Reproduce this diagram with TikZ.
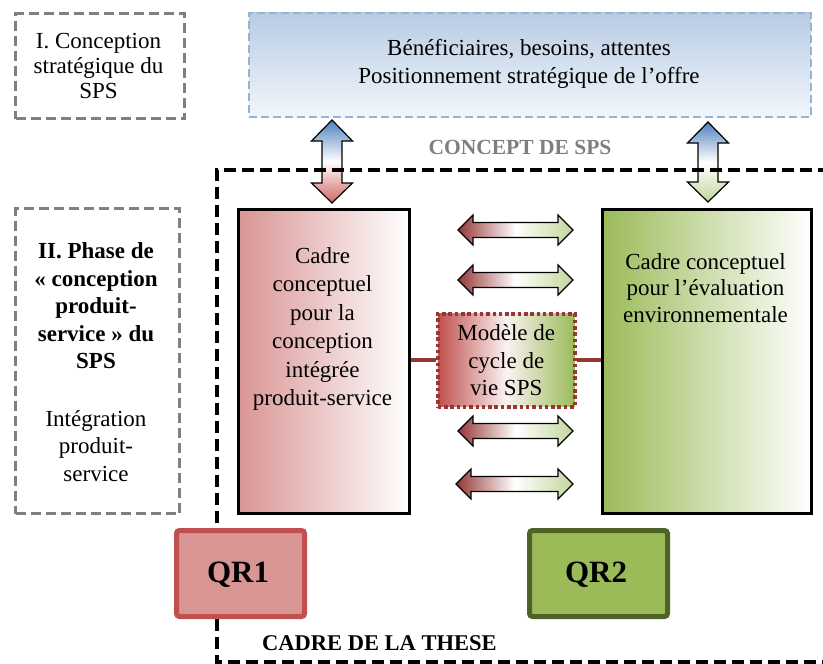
\documentclass[tikz,border=0pt]{standalone}
\usepackage{fontspec}
\setmainfont{Liberation Serif}
\definecolor{grayD}{HTML}{7F7F7F}
\definecolor{blueB}{HTML}{95B3D7}
\definecolor{blueTop}{HTML}{B8CCE4}
\definecolor{blueBot}{HTML}{F2F6FB}
\definecolor{blueA}{HTML}{4F81BD}
\definecolor{redL}{HTML}{D99594}
\definecolor{redM}{HTML}{C0504D}
\definecolor{redD}{HTML}{953735}
\definecolor{redArr}{HTML}{D06664}
\definecolor{greenL}{HTML}{9BBB59}
\definecolor{greenD}{HTML}{4F6228}
\definecolor{greenP}{HTML}{C3D69B}
\newcommand\hdarr[3]{%
\shadedraw[harrow] (#1,#3) -- ({#1+15},{#3-15}) -- ({#1+15},{#3-7.5}) -- ({#2-15},{#3-7.5}) -- ({#2-15},{#3-15}) -- (#2,#3) -- ({#2-15},{#3+15}) -- ({#2-15},{#3+7.5}) -- ({#1+15},{#3+7.5}) -- ({#1+15},{#3+15}) -- cycle;}
\newcommand\vdarr[5]{% x, ytop, ybottom, bottom colour
\shadedraw[varrow, bottom color=#4, middle color=white] (#1,#2) -- ({#1+20.5},{#2+21}) -- ({#1+10},{#2+21}) -- ({#1+10},{#3-20}) -- ({#1+20.5},{#3-20}) -- (#1,#3) -- ({#1-20.5},{#3-20}) -- ({#1-10},{#3-20}) -- ({#1-10},{#2+21}) -- ({#1-20.5},{#2+21}) -- cycle;}
\begin{document}
\begin{tikzpicture}[x=1pt,y=-1pt,
  txt/.style={font=\fontsize{23}{27.5}\selectfont, align=center, inner sep=0pt},
  graybox/.style={draw=grayD, line width=3pt, dash pattern=on 10pt off 5pt, anchor=north west, inner sep=0pt},
  bluebox/.style={draw=blueB, line width=1.8pt, dash pattern=on 8pt off 4pt, top color=blueTop, bottom color=blueBot, anchor=north west, inner sep=0pt},
  bigbox/.style={draw=black, line width=2.8pt, anchor=north west, inner sep=0pt},
  qrbox/.style={line width=5pt, rounded corners=3pt, anchor=north west, inner sep=0pt, font=\bfseries\fontsize{31}{36}\selectfont},
  harrow/.style={draw=black, line width=1.2pt, line join=miter, left color=redD, right color=greenP, middle color=white},
  varrow/.style={draw=black, line width=1.2pt, line join=miter, top color=blueA},
  frame/.style={draw=black, line width=4pt, dash pattern=on 12pt off 6pt},
  link/.style={draw=redD, line width=4pt}]
\useasboundingbox (0,0) rectangle (823,664);

% top row
\node[graybox, minimum width=169pt, minimum height=105pt] (b1) at (14,12) {};
\node[txt, font=\fontsize{23}{25}\selectfont] (b1t) at (98.5,66) {I. Conception\\stratégique du\\SPS};
\node[bluebox, minimum width=562pt, minimum height=104pt] (top) at (248,12) {};
\node[txt] (topt) at (529,64) {Bénéficiaires, besoins, attentes\\Positionnement stratégique de l’offre};

% vertical arrows
\vdarr{332}{120}{203}{redArr}{}
\vdarr{708}{122}{202}{greenP}{}

\node[font=\bfseries\fontsize{21.5}{24}\selectfont, text=grayD, inner sep=0pt] (concept) at (520,147) {CONCEPT DE SPS};

% thesis frame
\draw[frame] (830,170) -- (217,170) -- (217,662) -- (830,662);

% phase II box
\node[graybox, minimum width=164pt, minimum height=305pt] (b2) at (14,207) {};
\node[txt] (b2t) at (96,362) {\bfseries II. Phase de\\\bfseries « conception\\\bfseries produit-\\\bfseries service » du\\\bfseries SPS\\[30pt]Intégration\\produit-\\service};

% main boxes
\node[bigbox, minimum width=171pt, minimum height=304pt, left color=redL, right color=white] (lbox) at (237,208) {};
\node[txt, font=\fontsize{23}{28.4}\selectfont] (lboxt) at (322.5,329) {Cadre\\conceptuel\\pour la\\conception\\intégrée\\produit-service};
\node[bigbox, minimum width=209pt, minimum height=304pt, left color=greenL, right color=white] (rbox) at (601,208) {};
\node[txt, font=\fontsize{23}{26.5}\selectfont] (rboxt) at (705.5,288) {Cadre conceptuel\\pour l’évaluation\\environnementale};

% middle model box
\node[draw=redD, line width=3.5pt, dash pattern=on 3.5pt off 2.8pt, anchor=north west, minimum width=137pt, minimum height=93pt, inner sep=0pt, left color=redM, right color=greenL, middle color=white!88!redL, txt] (mid) at (436,312) {Modèle de\\cycle de\\vie SPS};
\draw[link] (lbox.east |- mid.west) -- (mid.west);
\draw[link] (mid.east) -- (rbox.west |- mid.east);

% horizontal arrows
\hdarr{458}{573}{230}
\hdarr{458}{573}{280}
\hdarr{458}{573}{431}
\hdarr{456}{573}{484}

% QR boxes
\node[qrbox, draw=redM, fill=redL, minimum width=128pt, minimum height=86pt] (qr1) at (174,528) {};
\node[font=\bfseries\fontsize{31}{36}\selectfont, inner sep=0pt] (qr1t) at (238,575) {QR1};
\node[qrbox, draw=greenD, fill=greenL, minimum width=138pt, minimum height=86pt] (qr2) at (527,528) {};
\node[font=\bfseries\fontsize{31}{36}\selectfont, inner sep=0pt] (qr2t) at (596,575) {QR2};

\node[font=\bfseries\fontsize{22.5}{26}\selectfont, anchor=west, inner sep=0pt] (these) at (262,643) {CADRE DE LA THESE};
\end{tikzpicture}
\end{document}
